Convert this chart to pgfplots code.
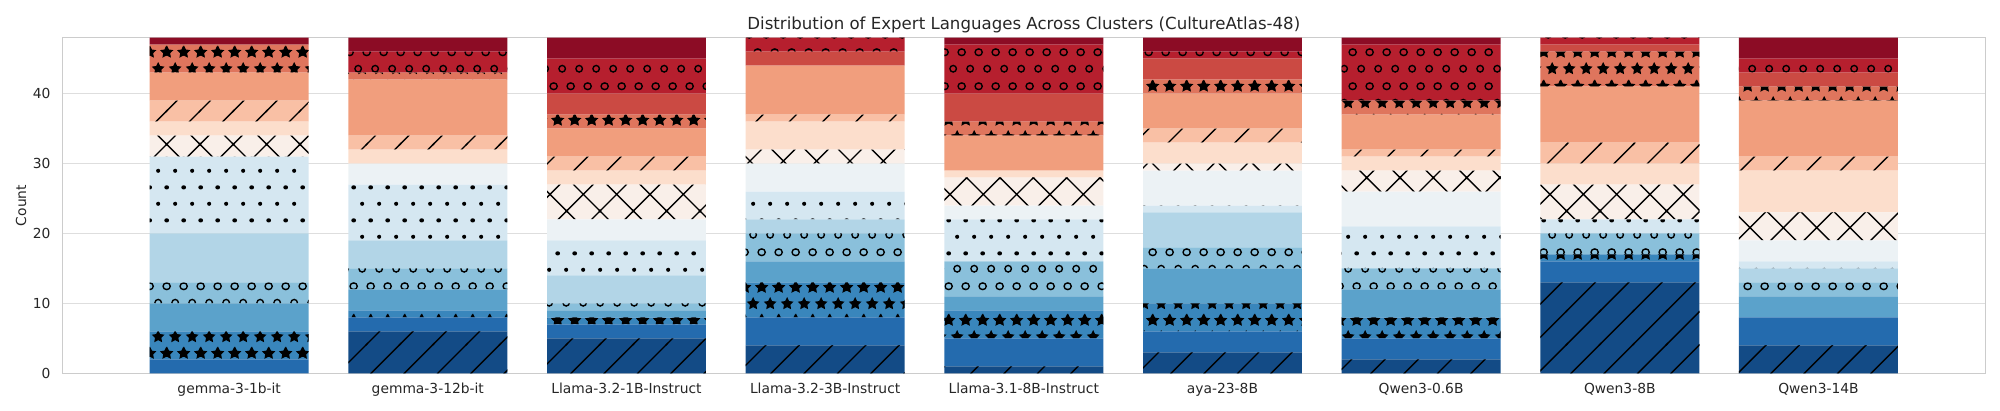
\documentclass[border=0pt]{standalone}
\usepackage{fontspec}
\setmainfont{DejaVu Sans}
\usepackage{pgfplots}
\usepackage{pgfplotstable}
\pgfplotsset{compat=1.18}
\usetikzlibrary{patterns}

% RdBu_r sampled at 0.05 ... 0.95
\definecolor{c0}{RGB}{19,75,134}
\definecolor{c1}{RGB}{36,107,174}
\definecolor{c2}{RGB}{57,134,188}
\definecolor{c3}{RGB}{91,162,203}
\definecolor{c4}{RGB}{138,192,219}
\definecolor{c5}{RGB}{178,213,231}
\definecolor{c6}{RGB}{213,231,241}
\definecolor{c7}{RGB}{236,242,245}
\definecolor{c8}{RGB}{249,239,233}
\definecolor{c9}{RGB}{252,222,204}
\definecolor{c10}{RGB}{249,192,165}
\definecolor{c11}{RGB}{241,158,125}
\definecolor{c12}{RGB}{223,117,93}
\definecolor{c13}{RGB}{203,74,67}
\definecolor{c14}{RGB}{182,31,46}
\definecolor{c15}{RGB}{140,12,37}

% hatches, sized like matplotlib at 100 dpi (unit = 1in, density 6)
\pgfdeclarepatternformonly{hne}{\pgfpoint{-1bp}{-1bp}}{\pgfpoint{25bp}{25bp}}{\pgfpoint{24bp}{24bp}}{%
  \pgfsetlinewidth{1bp}%
  \pgfpathmoveto{\pgfpoint{-1bp}{-1bp}}\pgfpathlineto{\pgfpoint{25bp}{25bp}}%
  \pgfusepath{stroke}}
\pgfdeclarepatternformonly{hx}{\pgfpoint{-1bp}{-1bp}}{\pgfpoint{25bp}{25bp}}{\pgfpoint{24bp}{24bp}}{%
  \pgfsetlinewidth{1bp}%
  \pgfpathmoveto{\pgfpoint{-1bp}{-1bp}}\pgfpathlineto{\pgfpoint{25bp}{25bp}}%
  \pgfpathmoveto{\pgfpoint{-1bp}{25bp}}\pgfpathlineto{\pgfpoint{25bp}{-1bp}}%
  \pgfusepath{stroke}}
\newcommand\stout[3]{\pgfpointadd{\pgfpoint{#1}{#2}}{\pgfpointpolar{#3}{4bp}}}
\newcommand\stin[3]{\pgfpointadd{\pgfpoint{#1}{#2}}{\pgfpointpolar{#3}{2bp}}}
\newcommand\starpath[2]{%
  \pgfpathmoveto{\stout{#1}{#2}{90}}\pgfpathlineto{\stin{#1}{#2}{126}}%
  \pgfpathlineto{\stout{#1}{#2}{162}}\pgfpathlineto{\stin{#1}{#2}{198}}%
  \pgfpathlineto{\stout{#1}{#2}{234}}\pgfpathlineto{\stin{#1}{#2}{270}}%
  \pgfpathlineto{\stout{#1}{#2}{306}}\pgfpathlineto{\stin{#1}{#2}{342}}%
  \pgfpathlineto{\stout{#1}{#2}{18}}\pgfpathlineto{\stin{#1}{#2}{54}}%
  \pgfpathclose}
\pgfdeclarepatternformonly{hstar}{\pgfpointorigin}{\pgfpoint{12bp}{24bp}}{\pgfpoint{12bp}{24bp}}{%
  \pgfsetlinewidth{0.8bp}%
  \starpath{6bp}{6bp}\starpath{0bp}{18bp}\starpath{12bp}{18bp}%
  \pgfusepath{fill,stroke}}
\pgfdeclarepatternformonly{hcirc}{\pgfpointorigin}{\pgfpoint{12bp}{24bp}}{\pgfpoint{12bp}{24bp}}{%
  \pgfsetlinewidth{1bp}%
  \pgfpathcircle{\pgfpoint{6bp}{6bp}}{2.4bp}%
  \pgfpathcircle{\pgfpoint{0bp}{18bp}}{2.4bp}%
  \pgfpathcircle{\pgfpoint{12bp}{18bp}}{2.4bp}%
  \pgfusepath{stroke}}
\pgfdeclarepatternformonly{hdot}{\pgfpointorigin}{\pgfpoint{12bp}{24bp}}{\pgfpoint{12bp}{24bp}}{%
  \pgfpathcircle{\pgfpoint{6bp}{6bp}}{1.5bp}%
  \pgfpathcircle{\pgfpoint{0bp}{18bp}}{1.5bp}%
  \pgfpathcircle{\pgfpoint{12bp}{18bp}}{1.5bp}%
  \pgfusepath{fill}}

% one row per model, one column per language (bottom to top)
\pgfplotstableread{
x  c0 c1 c2 c3 c4 c5 c6 c7 c8 c9 c10 c11 c12 c13 c14 c15
0  0  2  4  4  3  7  11 0  3  2  3   4   4   0   0   1
1  6  2  1  3  3  4  8  3  0  2  2   8   1   0   3   2
2  5  2  1  1  1  4  5  3  5  2  2   4   2   3   5   3
3  4  4  5  3  4  2  4  4  2  4  1   7   0   2   2   0
4  1  4  4  2  5  0  6  2  4  1  0   5   2   4   7   1
5  3  3  4  5  3  5  1  5  1  3  2   5   2   3   1   2
6  2  3  3  4  3  0  6  5  3  2  1   5   2   0   8   1
7  13 3  1  0  3  0  2  0  5  3  3   8   5   1   1   0
8  4  4  0  3  2  2  1  3  4  6  2   8   2   2   2   3
}\counts

\begin{document}
\begin{tikzpicture}
\begin{axis}[
  at={(0,0)}, anchor=south west,
  scale only axis, width=19.23in, height=3.356in,
  ybar stacked, bar width=0.8,
  xmin=-0.84, xmax=8.84, ymin=0, ymax=48,
  xtick={0,...,8},
  xticklabels={gemma-3-1b-it,gemma-3-12b-it,Llama-3.2-1B-Instruct,Llama-3.2-3B-Instruct,Llama-3.1-8B-Instruct,aya-23-8B,Qwen3-0.6B,Qwen3-8B,Qwen3-14B},
  ytick={0,10,20,30,40},
  major tick length=0,
  ymajorgrids,
  major grid style={color=black!13, line width=0.8bp},
  axis line style={color=black!20, line width=1bp},
  /pgf/number format/assume math mode=true,
  tick label style={font=\fontsize{10}{12}\selectfont, text=black!85},
  xticklabel style={anchor=base, yshift=-14.4pt},
  yticklabel style={anchor=east, inner sep=0pt, xshift=-8.4pt},
  ylabel={Count},
  ylabel style={at={(axis description cs:-0.02148,0.5)}, anchor=center, font=\fontsize{10}{12}\selectfont, text=black!85},
  title={Distribution of Expert Languages Across Clusters (CultureAtlas-48)},
  every axis title shift=0pt,
  title style={at={(axis description cs:0.5,1)}, anchor=base, yshift=6pt, font=\fontsize{12}{14}\selectfont, text=black!85},
  every axis plot/.append style={draw=none},
]
\addplot[fill=c0, postaction={pattern=hne}] table[x=x,y=c0]{\counts};
\addplot[fill=c1] table[x=x,y=c1]{\counts};
\addplot[fill=c2, postaction={pattern=hstar}] table[x=x,y=c2]{\counts};
\addplot[fill=c3] table[x=x,y=c3]{\counts};
\addplot[fill=c4, postaction={pattern=hcirc}] table[x=x,y=c4]{\counts};
\addplot[fill=c5] table[x=x,y=c5]{\counts};
\addplot[fill=c6, postaction={pattern=hdot}] table[x=x,y=c6]{\counts};
\addplot[fill=c7] table[x=x,y=c7]{\counts};
\addplot[fill=c8, postaction={pattern=hx}] table[x=x,y=c8]{\counts};
\addplot[fill=c9] table[x=x,y=c9]{\counts};
\addplot[fill=c10, postaction={pattern=hne}] table[x=x,y=c10]{\counts};
\addplot[fill=c11] table[x=x,y=c11]{\counts};
\addplot[fill=c12, postaction={pattern=hstar}] table[x=x,y=c12]{\counts};
\addplot[fill=c13] table[x=x,y=c13]{\counts};
\addplot[fill=c14, postaction={pattern=hcirc}] table[x=x,y=c14]{\counts};
\addplot[fill=c15] table[x=x,y=c15]{\counts};
\end{axis}
\pgfresetboundingbox
\path (-0.623in,-0.377in) rectangle (19.377in,3.733in);
\end{tikzpicture}
\end{document}
